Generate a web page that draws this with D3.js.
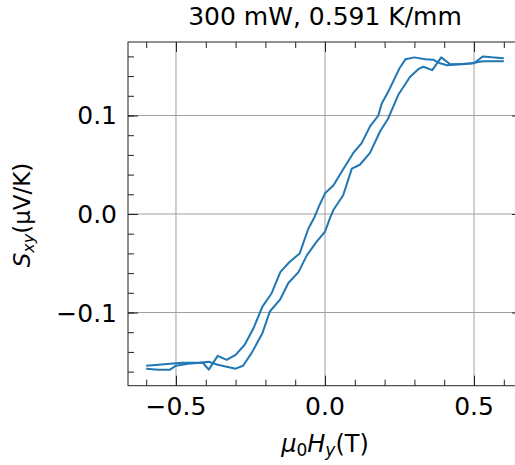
<!DOCTYPE html>
<html>
<head>
<meta charset="utf-8">
<script src="https://cdn.jsdelivr.net/npm/d3@7"></script>
<style>
  body { margin: 0; background: #fff; }
  svg { display: block; font-family: "DejaVu Sans", sans-serif; }
</style>
</head>
<body>
<svg id="chart" width="515" height="465"></svg>
<script>
// sweep A (left branch of the loop)
const fieldA = [-0.60, -0.56, -0.52, -0.48, -0.44, -0.41, -0.39, -0.36, -0.33, -0.30,
  -0.27, -0.24, -0.21, -0.18, -0.15, -0.12, -0.085, -0.056, -0.035, -0.02,
  0.0, 0.028, 0.06, 0.095, 0.123, 0.151, 0.179, 0.19, 0.212, 0.25,
  0.27, 0.30, 0.336, 0.364, 0.386, 0.41, 0.45, 0.49, 0.53, 0.57, 0.60];
const sxyA = [-0.154, -0.153, -0.152, -0.151, -0.151, -0.151, -0.158, -0.144, -0.148, -0.143,
  -0.133, -0.116, -0.094, -0.081, -0.059, -0.049, -0.040, -0.015, -0.003, 0.008,
  0.021, 0.029, 0.045, 0.062, 0.072, 0.089, 0.100, 0.112, 0.124, 0.148,
  0.157, 0.159, 0.157, 0.1565, 0.153, 0.151, 0.152, 0.153, 0.155, 0.155, 0.155];

// sweep B (right branch of the loop)
const fieldB = [-0.60, -0.56, -0.52, -0.50, -0.46, -0.42, -0.39, -0.36, -0.33, -0.30,
  -0.275, -0.246, -0.21, -0.185, -0.151, -0.123, -0.089, -0.061, -0.028, 0.0,
  0.017, 0.028, 0.061, 0.09, 0.117, 0.151, 0.185, 0.212, 0.246, 0.285,
  0.313, 0.33, 0.36, 0.39, 0.42, 0.46, 0.50, 0.53, 0.56, 0.60];
const sxyB = [-0.157, -0.158, -0.158, -0.154, -0.152, -0.151, -0.150, -0.153, -0.155, -0.157,
  -0.154, -0.141, -0.121, -0.099, -0.087, -0.070, -0.059, -0.042, -0.028, -0.018,
  -0.004, 0.004, 0.019, 0.046, 0.050, 0.062, 0.084, 0.097, 0.121, 0.139,
  0.147, 0.1495, 0.146, 0.159, 0.152, 0.152, 0.153, 0.160, 0.159, 0.158];

const xMajor = [-0.5, 0.0, 0.5];
const yMajor = [-0.1, 0.0, 0.1];
const xMinor = d3.range(-6, 7).map(d => d / 10);
const yMinor = d3.range(-8, 9).map(d => d / 50);
const title = "300 mW, 0.591 K/mm";

const pLeft = 128, pTop = 42, pRight = 522, pBottom = 385.7;

const svg = d3.select("#chart");

const x = d3.scaleLinear().domain([-0.661, 0.661]).range([pLeft, pRight]);
const y = d3.scaleLinear().domain([-0.1743, 0.1746]).range([pBottom, pTop]);

// grid
svg.append("g")
  .selectAll("line")
  .data(xMajor)
  .join("line")
  .attr("x1", d => x(d)).attr("x2", d => x(d))
  .attr("y1", pTop).attr("y2", pBottom)
  .attr("stroke", "#a0a0a0").attr("stroke-width", 1);

svg.append("g")
  .selectAll("line")
  .data(yMajor)
  .join("line")
  .attr("x1", pLeft).attr("x2", pRight)
  .attr("y1", d => y(d)).attr("y2", d => y(d))
  .attr("stroke", "#a0a0a0").attr("stroke-width", 1);

// curves
const line = d3.line().x(d => x(d[0])).y(d => y(d[1]));
[[fieldA, sxyA], [fieldB, sxyB]].forEach(([f, s]) => {
  svg.append("path")
    .datum(f.map((v, i) => [v, s[i]]))
    .attr("fill", "none")
    .attr("stroke", "#1f77b4")
    .attr("stroke-width", 2)
    .attr("stroke-linejoin", "round")
    .attr("d", line);
});

// ticks, pointing inward on all sides
function ticks(axis, vals, size) {
  return axis.tickValues(vals).tickSize(-size).tickFormat("");
}
const fmt = d3.format(".1f");

svg.append("g").attr("transform", `translate(0,${pBottom})`)
  .call(ticks(d3.axisBottom(x), xMinor, 6));
svg.append("g").attr("transform", `translate(0,${pBottom})`)
  .call(ticks(d3.axisBottom(x), xMajor, 10));
svg.append("g").attr("transform", `translate(0,${pTop})`)
  .call(ticks(d3.axisTop(x), xMinor, 6));
svg.append("g").attr("transform", `translate(0,${pTop})`)
  .call(ticks(d3.axisTop(x), xMajor, 10));
svg.append("g").attr("transform", `translate(${pLeft},0)`)
  .call(ticks(d3.axisLeft(y), yMinor, 6));
svg.append("g").attr("transform", `translate(${pLeft},0)`)
  .call(ticks(d3.axisLeft(y), yMajor, 10));
svg.append("g").attr("transform", `translate(${pRight},0)`)
  .call(ticks(d3.axisRight(y), yMinor, 6));
svg.append("g").attr("transform", `translate(${pRight},0)`)
  .call(ticks(d3.axisRight(y), yMajor, 10));

svg.selectAll(".domain").remove();
svg.selectAll(".tick line").attr("stroke", "#222").attr("stroke-width", 1);

// frame
svg.append("rect")
  .attr("x", pLeft).attr("y", pTop)
  .attr("width", pRight - pLeft).attr("height", pBottom - pTop)
  .attr("fill", "none").attr("stroke", "#222").attr("stroke-width", 1);

// tick labels
svg.append("g")
  .selectAll("text")
  .data(xMajor)
  .join("text")
  .attr("x", d => x(d)).attr("y", 415)
  .attr("text-anchor", "middle")
  .attr("font-size", 25)
  .attr("fill", "#000")
  .text(d => fmt(d));

svg.append("g")
  .selectAll("text")
  .data(yMajor)
  .join("text")
  .attr("x", 117).attr("y", d => y(d) + 9)
  .attr("text-anchor", "end")
  .attr("font-size", 25)
  .attr("fill", "#000")
  .text(d => fmt(d));

// title
svg.append("text")
  .attr("x", 325).attr("y", 25)
  .attr("text-anchor", "middle")
  .attr("font-size", 25)
  .text(title);

// x label: mu_0 H_y (T)
const xl = svg.append("text")
  .attr("x", 325).attr("y", 452)
  .attr("text-anchor", "middle")
  .attr("font-size", 24);
xl.append("tspan").attr("font-style", "italic").text("μ");
xl.append("tspan").attr("font-size", 17).attr("dy", 4).text("0");
xl.append("tspan").attr("font-style", "italic").attr("dy", -4).text("H");
xl.append("tspan").attr("font-style", "italic").attr("font-size", 17).attr("dy", 4).text("y");
xl.append("tspan").attr("dy", -4).text("(T)");

// y label: S_xy (uV/K)
const yl = svg.append("text")
  .attr("transform", "translate(30,215) rotate(-90)")
  .attr("text-anchor", "middle")
  .attr("font-size", 23);
yl.append("tspan").attr("font-style", "italic").text("S");
yl.append("tspan").attr("font-style", "italic").attr("font-size", 16).attr("dy", 4).text("xy");
yl.append("tspan").attr("dy", -4).text("(μV/K)");
</script>
</body>
</html>
